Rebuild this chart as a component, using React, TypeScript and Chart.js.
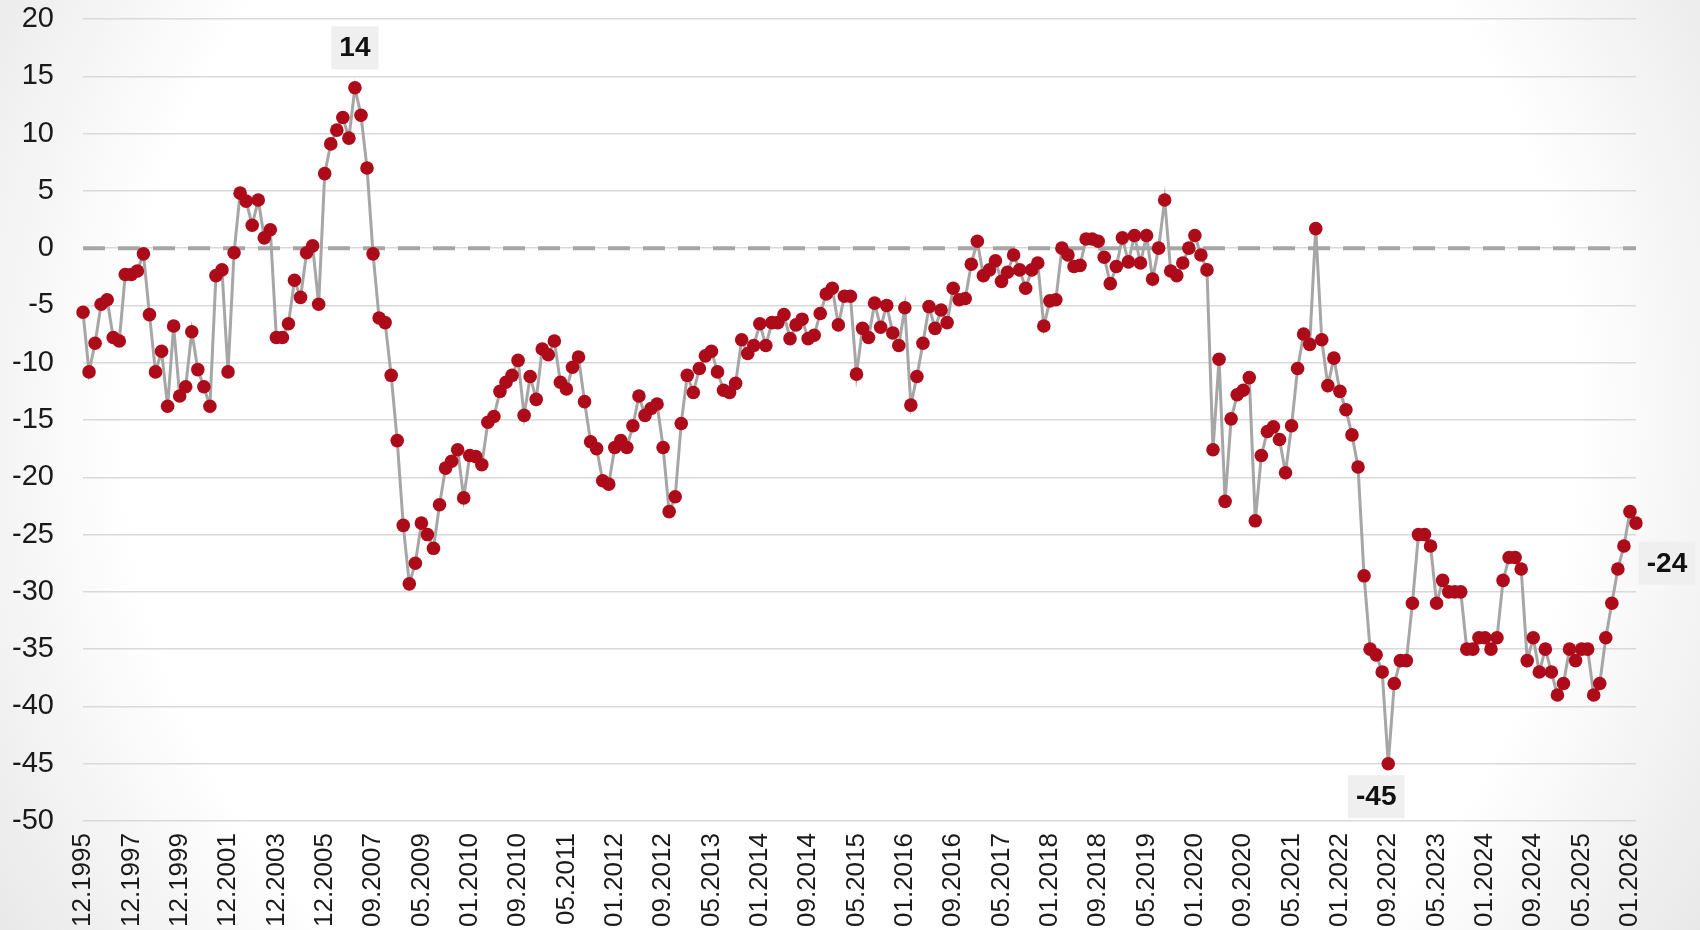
import React, { useEffect, useRef } from "react";
import { Chart, registerables } from "chart.js";

Chart.register(...registerables);

// Tick labels shown under the axis (every 8th category)
const TICK_LABELS = [
  "12.1995", "12.1997", "12.1999", "12.2001", "12.2003", "12.2005", "09.2007", "05.2009",
  "01.2010", "09.2010", "05.2011", "01.2012", "09.2012", "05.2013", "01.2014", "09.2014",
  "05.2015", "01.2016", "09.2016", "05.2017", "01.2018", "09.2018", "05.2019", "01.2020",
  "09.2020", "05.2021", "01.2022", "09.2022", "05.2023", "01.2024", "09.2024", "05.2025",
  "01.2026",
];
const LABEL_EVERY = 8;

// Categories (quarterly early, monthly from 05.2009)
function monthSeq(y: number, m: number, step: number, count: number): string[] {
  const out: string[] = [];
  for (let k = 0; k < count; k++) {
    const t = y * 12 + (m - 1) + k * step;
    const yy = Math.floor(t / 12);
    const mm = (t % 12) + 1;
    out.push(String(mm).padStart(2, "0") + "." + yy);
  }
  return out;
}
const CATEGORIES: string[] = [
  ...monthSeq(1995, 12, 3, 47),
  "08.2007",
  ...monthSeq(2007, 9, 3, 7),
  "04.2009",
  ...monthSeq(2009, 5, 1, 202),
];

// Series values
const VALUES: number[] = [
  -5.6, -10.8, -8.3, -4.9, -4.5, -7.8, -8.1, -2.3, -2.3, -2.0,
  -0.5, -5.8, -10.8, -9.0, -13.8, -6.8, -12.9, -12.1, -7.3, -10.6,
  -12.1, -13.8, -2.4, -1.9, -10.8, -0.4, 4.8, 4.1, 2.0, 4.2,
  0.9, 1.6, -7.8, -7.8, -6.6, -2.8, -4.3, -0.4, 0.2, -4.9,
  6.5, 9.1, 10.3, 11.4, 9.6, 14.0, 11.6, 7.0, -0.5, -6.1,
  -6.5, -11.1, -16.8, -24.2, -29.3, -27.5, -24.0, -25.0, -26.2, -22.4,
  -19.2, -18.6, -17.6, -21.8, -18.1, -18.2, -18.9, -15.2, -14.7, -12.5,
  -11.7, -11.1, -9.8, -14.6, -11.2, -13.2, -8.8, -9.3, -8.1, -11.7,
  -12.3, -10.4, -9.5, -13.4, -16.9, -17.5, -20.3, -20.6, -17.4, -16.8,
  -17.4, -15.5, -12.9, -14.6, -14.0, -13.6, -17.4, -23.0, -21.7, -15.3,
  -11.1, -12.6, -10.5, -9.4, -9.0, -10.8, -12.4, -12.6, -11.8, -8.0,
  -9.2, -8.5, -6.6, -8.5, -6.5, -6.5, -5.8, -7.9, -6.7, -6.2,
  -7.9, -7.6, -5.7, -4.0, -3.5, -6.7, -4.2, -4.2, -11.0, -7.0,
  -7.8, -4.8, -6.9, -5.0, -7.4, -8.5, -5.2, -13.7, -11.2, -8.3,
  -5.1, -7.0, -5.4, -6.5, -3.5, -4.5, -4.4, -1.4, 0.6, -2.4,
  -1.9, -1.1, -2.9, -2.1, -0.6, -1.9, -3.5, -1.9, -1.3, -6.8,
  -4.6, -4.5, 0.0, -0.6, -1.6, -1.5, 0.8, 0.8, 0.6, -0.8,
  -3.1, -1.6, 0.9, -1.2, 1.1, -1.3, 1.1, -2.7, 0.0, 4.2,
  -2.0, -2.4, -1.3, 0.0, 1.1, -0.6, -1.9, -17.6, -9.7, -22.1,
  -14.9, -12.8, -12.4, -11.3, -23.8, -18.1, -16.0, -15.6, -16.7, -19.6,
  -15.5, -10.5, -7.5, -8.4, 1.7, -8.0, -12.0, -9.6, -12.5, -14.1,
  -16.3, -19.1, -28.6, -35, -35.5, -37, -45, -38, -36, -36,
  -31, -25, -25, -26, -31, -29, -30, -30, -30, -35,
  -35, -34, -34, -35, -34, -29, -27, -27, -28, -36,
  -34, -37, -35, -37, -39, -38, -35, -36, -35, -35,
  -39, -38, -34, -31, -28, -26, -23, -24,
];

// Highlighted points: maximum, minimum, latest
const HIGHLIGHTS: { index: number; place: "above" | "below" | "right" }[] = [
  { index: 45, place: "above" },
  { index: 216, place: "below" },
  { index: 257, place: "right" },
];

const Y_MIN = -50;
const Y_MAX = 20;
const Y_STEP = 5;

const FONT = "'Liberation Sans', Arial, sans-serif";

const backgroundPlugin = {
  id: "bgGradient",
  beforeDraw(chart: any) {
    const { ctx, width, height } = chart;
    ctx.save();
    const g = ctx.createRadialGradient(width * 0.5, height * 0.45, 100, width * 0.5, height * 0.45, width * 0.6);
    g.addColorStop(0, "#ffffff");
    g.addColorStop(0.68, "#ffffff");
    g.addColorStop(1, "#e6e6e6");
    ctx.fillStyle = g;
    ctx.fillRect(0, 0, width, height);
    ctx.restore();
  },
};

const zeroLinePlugin = {
  id: "zeroLine",
  beforeDatasetsDraw(chart: any) {
    const { ctx, chartArea, scales } = chart;
    const y = scales.y.getPixelForValue(0);
    ctx.save();
    ctx.strokeStyle = "#a6a6a6";
    ctx.lineWidth = 4;
    ctx.setLineDash([22, 13]);
    ctx.beginPath();
    ctx.moveTo(chartArea.left, y);
    ctx.lineTo(chartArea.right, y);
    ctx.stroke();
    ctx.restore();
  },
};

const highlightPlugin = {
  id: "highlights",
  afterDatasetsDraw(chart: any) {
    const { ctx } = chart;
    const meta = chart.getDatasetMeta(0);
    ctx.save();
    ctx.font = `bold 28px ${FONT}`;
    ctx.textAlign = "center";
    ctx.textBaseline = "middle";
    for (const h of HIGHLIGHTS) {
      const el = meta.data[h.index];
      if (!el) continue;
      const text = String(Math.round(VALUES[h.index]));
      const tw = ctx.measureText(text).width;
      const bw = tw + 16;
      const bh = 43;
      let cx = el.x;
      let cy = el.y;
      if (h.place === "above") {
        cy = el.y - 40;
      } else if (h.place === "below") {
        cx = el.x - 12;
        cy = el.y + 33;
      } else {
        cx = el.x + 31;
        cy = el.y + 40;
      }
      ctx.fillStyle = "#efefef";
      ctx.fillRect(cx - bw / 2, cy - bh / 2, bw, bh);
      ctx.fillStyle = "#111111";
      ctx.fillText(text, cx, cy + 1);
    }
    ctx.restore();
  },
};

function LineChart() {
  const canvasRef = useRef<HTMLCanvasElement | null>(null);

  useEffect(() => {
    document.body.style.margin = "0";
    const canvas = canvasRef.current;
    if (!canvas) return;
    const chart = new Chart(canvas, {
      type: "line",
      data: {
        labels: CATEGORIES,
        datasets: [
          {
            data: VALUES,
            borderColor: "#a6a6a6",
            borderWidth: 3,
            pointRadius: 6.8,
            pointBackgroundColor: "#ae0b1a",
            pointBorderColor: "#ae0b1a",
            pointBorderWidth: 0,
            tension: 0,
            fill: false,
          },
        ],
      },
      options: {
        responsive: false,
        animation: false,
        events: [],
        layout: { padding: { top: 19, right: 64, bottom: 0, left: 0 } },
        plugins: {
          legend: { display: false },
          tooltip: { enabled: false },
        },
        scales: {
          x: {
            type: "category",
            offset: false,
            grid: { display: false, drawTicks: false },
            border: { display: false },
            ticks: {
              autoSkip: false,
              maxRotation: 90,
              minRotation: 90,
              padding: 12,
              color: "#1a1a1a",
              font: { family: FONT, size: 26 },
              callback: (_v: any, index: number) =>
                index % LABEL_EVERY === 0 ? TICK_LABELS[index / LABEL_EVERY] : "",
            },
            afterFit: (scale: any) => {
              scale.height = 109;
              scale.paddingLeft = 0;
              scale.paddingRight = 0;
            },
          },
          y: {
            min: Y_MIN,
            max: Y_MAX,
            grid: { color: "#d9d9d9", lineWidth: 1.5, drawTicks: false },
            border: { display: false },
            ticks: {
              stepSize: Y_STEP,
              padding: 29,
              color: "#1a1a1a",
              font: { family: FONT, size: 29 },
            },
            afterFit: (scale: any) => {
              scale.width = 83;
              scale.paddingTop = 0;
              scale.paddingBottom = 0;
            },
          },
        },
      },
      plugins: [backgroundPlugin, zeroLinePlugin, highlightPlugin],
    });
    return () => chart.destroy();
  }, []);

  return (
    <div style={{ position: "absolute", left: 0, top: 0, width: 1700, height: 930 }}>
      <canvas ref={canvasRef} width={1700} height={930} style={{ display: "block", width: 1700, height: 930 }} />
    </div>
  );
}

export default function App() {
  return <LineChart />;
}
